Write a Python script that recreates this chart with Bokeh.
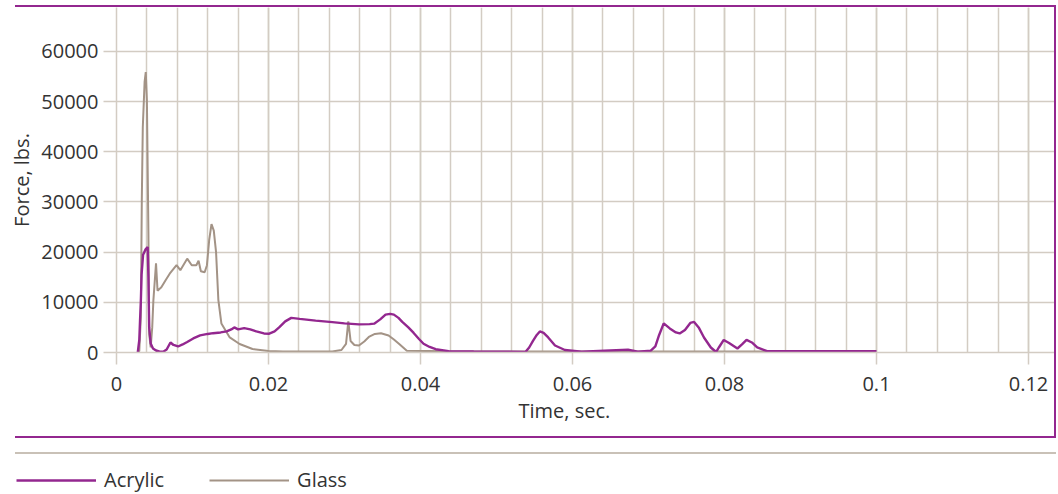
from bokeh.plotting import figure
from bokeh.layouts import column, row
from bokeh.models import (Range1d, FixedTicker, CustomJSTickFormatter, Legend, LegendItem,
                          Spacer, Title)
from bokeh.embed import file_html
from bokeh.resources import INLINE

# ---- data ----
acrylic_t = [0.0028, 0.0030, 0.0031, 0.0032, 0.0033, 0.0035, 0.0038, 0.0041, 0.0042, 0.0043,
             0.0045, 0.0048, 0.0052, 0.0057, 0.0062, 0.0066, 0.0071, 0.0075, 0.0081, 0.0087,
             0.0093, 0.0101, 0.0110, 0.0120, 0.0127, 0.0137, 0.0145, 0.0151, 0.0155, 0.0160,
             0.0168, 0.0176, 0.0184, 0.0194, 0.0201, 0.0208, 0.0214, 0.0222, 0.0230, 0.0241,
             0.0262, 0.0284, 0.0300, 0.0319, 0.0333, 0.0339, 0.0347, 0.0354, 0.0360, 0.0365,
             0.0371, 0.0376, 0.0384, 0.0391, 0.0398, 0.0404, 0.0412, 0.0420, 0.0437, 0.0470,
             0.0510, 0.0538, 0.0543, 0.0548, 0.0553, 0.0557, 0.0562, 0.0568, 0.0577, 0.0590,
             0.0612, 0.0642, 0.0673, 0.0686, 0.0703, 0.0709, 0.0714, 0.0720, 0.0728, 0.0736,
             0.0741, 0.0748, 0.0755, 0.0760, 0.0766, 0.0773, 0.0782, 0.0789, 0.0793, 0.0799,
             0.0806, 0.0817, 0.0823, 0.0829, 0.0836, 0.0843, 0.0856, 0.0880, 0.1000]
acrylic_f = [0, 2500, 6500, 10000, 15500, 19500, 20500, 21000, 15000, 5000,
             1800, 800, 400, 150, 200, 600, 2000, 1500, 1200, 1600,
             2100, 2800, 3400, 3700, 3850, 4000, 4200, 4600, 5000, 4600,
             4850, 4600, 4200, 3800, 3750, 4200, 5000, 6200, 6900, 6700,
             6350, 6050, 5800, 5600, 5650, 5750, 6600, 7550, 7700, 7550,
             6900, 6100, 5000, 3900, 2700, 1750, 1100, 650, 280, 200,
             150, 100, 1000, 2300, 3500, 4200, 3900, 3000, 1400, 500,
             150, 350, 550, 150, 350, 1200, 3500, 5800, 4800, 4000,
             3800, 4500, 5900, 6100, 5000, 3000, 1000, 100, 1100, 2500,
             1900, 800, 1600, 2500, 2000, 1000, 250, 250, 250]

glass_t = [0.0028, 0.0030, 0.0032, 0.00333, 0.00346, 0.0037, 0.00385, 0.0040, 0.0042, 0.0043,
           0.0045, 0.0047, 0.00485, 0.0052, 0.0054, 0.0059, 0.0065, 0.0070, 0.0079, 0.0084,
           0.0093, 0.0099, 0.0105, 0.0108, 0.0111, 0.0116, 0.0119, 0.0122, 0.0125, 0.0128,
           0.0131, 0.0134, 0.0138, 0.0149, 0.0162, 0.0179, 0.0200, 0.0219, 0.0284,
           0.0296, 0.0302, 0.0305, 0.0308, 0.0313, 0.0319, 0.0326, 0.0332, 0.0340, 0.0348,
           0.0358, 0.0365, 0.0372, 0.0382, 0.0437, 0.0586, 0.0860]
glass_f = [0, 300, 7000, 30300, 44900, 54000, 55900, 50200, 23600, 3700,
           1000, 5000, 10300, 17800, 12300, 13000, 14500, 15700, 17400, 16400,
           18700, 17400, 17400, 18300, 16200, 16000, 17400, 22500, 25600, 24300,
           20000, 10500, 5800, 3000, 1700, 700, 300, 200, 200,
           500, 1700, 6200, 2300, 1500, 1400, 2200, 3100, 3700, 3850,
           3400, 2600, 1700, 350, 250, 200, 200]

x_ticks = [0, 0.02, 0.04, 0.06, 0.08, 0.1, 0.12]
x_tick_labels = ["0", "0.02", "0.04", "0.06", "0.08", "0.1", "0.12"]
x_minor = [round(i * 0.004, 3) for i in range(31)]
y_ticks = [0, 10000, 20000, 30000, 40000, 50000, 60000]
y_tick_labels = ["0", "10000", "20000", "30000", "40000", "50000", "60000"]

series_names = ["Acrylic", "Glass"]
x_title = "Time, sec."
y_title = "Force, lbs."

# ---- style ----
PURPLE = "#93278f"
GLASS = "#a39386"
GRID = "#d3ccc3"
SEP = "#c9c1b7"
TEXT = "#333333"
FONT = "Open Sans"
FS = "20px"

p = figure(width=1054, height=429,
           x_range=Range1d(0, 0.12342), y_range=Range1d(0, 68770),
           output_backend="svg", toolbar_location=None,
           min_border_left=116, min_border_right=0, min_border_top=0, min_border_bottom=84)
p.outline_line_color = None
p.background_fill_color = "white"
p.border_fill_color = "white"

p.xaxis.ticker = FixedTicker(ticks=x_ticks, minor_ticks=x_minor)
p.yaxis.ticker = FixedTicker(ticks=y_ticks, minor_ticks=[])
for g in (p.xgrid, p.ygrid):
    g.grid_line_color = GRID
    g.grid_line_width = 1.5
p.xgrid.minor_grid_line_color = GRID
p.xgrid.minor_grid_line_width = 1.5

fmt_code = ("const i = tvals.findIndex(t => Math.abs(t - tick) < 1e-9);"
            "return i >= 0 ? tlabs[i] : '';")
p.xaxis.formatter = CustomJSTickFormatter(args=dict(tvals=x_ticks, tlabs=x_tick_labels), code=fmt_code)
p.yaxis.formatter = CustomJSTickFormatter(args=dict(tvals=y_ticks, tlabs=y_tick_labels), code=fmt_code)

for ax in (p.xaxis[0], p.yaxis[0]):
    ax.axis_line_color = GRID
    ax.axis_line_width = 1.5
    ax.major_tick_line_color = GRID
    ax.major_tick_line_width = 1.5
    ax.major_tick_in = 0
    ax.minor_tick_line_color = None
    ax.major_label_text_font = FONT
    ax.major_label_text_font_size = FS
    ax.major_label_text_color = TEXT
    ax.axis_label_text_font = FONT
    ax.axis_label_text_font_size = FS
    ax.axis_label_text_color = TEXT
    ax.axis_label_text_font_style = "normal"
p.xaxis.major_tick_out = 12
p.xaxis.major_label_standoff = 12
p.yaxis.major_tick_out = 13
p.yaxis.major_label_standoff = 5
p.yaxis.axis_label = y_title
p.yaxis.axis_label_standoff = 3

r_g = p.line(glass_t, glass_f, line_color=GLASS, line_width=2)
r_a = p.line(acrylic_t, acrylic_f, line_color=PURPLE, line_width=2.4)

p.add_layout(Title(text=x_title, align="left", offset=402, standoff=2,
                   text_font=FONT, text_font_size=FS, text_font_style="normal",
                   text_color=TEXT), "below")

# ---- legend strip (its own small figure; data kept out of view) ----
pl = figure(width=1058, height=40, x_range=Range1d(0, 1), y_range=Range1d(-3, -2),
            output_backend="svg", toolbar_location=None, min_border=0,
            x_axis_location=None, y_axis_location=None)
pl.outline_line_color = None
pl.grid.visible = False
la = pl.line(acrylic_t, acrylic_f, line_color=PURPLE, line_width=2.4)
lg = pl.line(glass_t, glass_f, line_color=GLASS, line_width=2)
legend = Legend(items=[LegendItem(label=series_names[0], renderers=[la]),
                       LegendItem(label=series_names[1], renderers=[lg])],
                orientation="horizontal", location=(16, 1),
                glyph_width=80, glyph_height=24, label_height=24, label_standoff=8,
                spacing=45, padding=0, margin=0, border_line_color=None,
                background_fill_alpha=0, label_text_font=FONT, label_text_font_size=FS,
                label_text_color=TEXT)
pl.add_layout(legend)


def bar(w, h, color):
    return Spacer(width=w, height=h, styles={"background-color": color})


layout = column(
    Spacer(width=1058, height=5),
    row(Spacer(width=15, height=2), bar(1041, 2, PURPLE)),
    row(p, bar(2, 429, PURPLE)),
    row(Spacer(width=15, height=2), bar(1041, 2, PURPLE)),
    Spacer(width=1058, height=14),
    row(Spacer(width=15, height=2), bar(1041, 2, SEP)),
    pl,
)

open("out.html", "w").write(file_html(layout, INLINE))
